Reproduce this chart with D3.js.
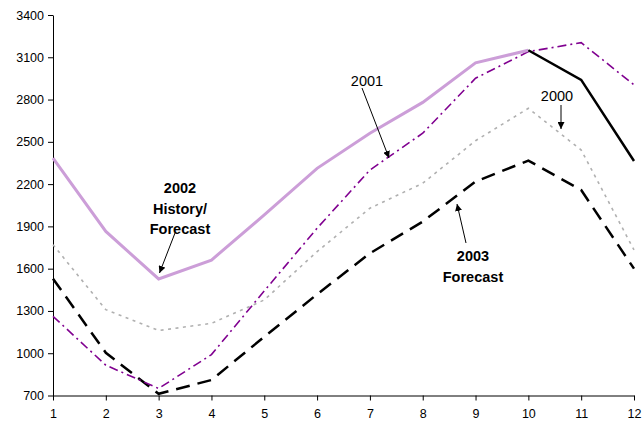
<!DOCTYPE html>
<html>
<head>
<meta charset="utf-8">
<script src="https://cdn.jsdelivr.net/npm/d3@7"></script>
<style>
  html, body { margin: 0; padding: 0; background: #fff; }
  svg { display: block; }
  text { font-family: "Liberation Sans", Arial, sans-serif; }
</style>
</head>
<body>
<svg id="chart" width="644" height="425"></svg>
<script>
// Monthly index (1..12)
const months = [1, 2, 3, 4, 5, 6, 7, 8, 9, 10, 11, 12];
const yTicks = [700, 1000, 1300, 1600, 1900, 2200, 2500, 2800, 3100, 3400];

// 2002 history (months 1-10) and 2002 forecast (months 10-12)
const history2002 = [2385, 1864, 1527, 1661, 1981, 2312, 2561, 2780, 3060, 3150];
const forecast2002Months = [10, 11, 12];
const forecast2002 = [3150, 2940, 2364];
// Prior years and 2003 forecast
const series2001 = [1262, 915, 750, 990, 1442, 1887, 2300, 2561, 2951, 3140, 3204, 2904];
const series2000 = [1770, 1309, 1161, 1212, 1378, 1721, 2029, 2206, 2508, 2738, 2442, 1733];
const series2003 = [1529, 1003, 712, 810, 1117, 1418, 1709, 1934, 2218, 2367, 2158, 1600];

const svg = d3.select("#chart");
const x = d3.scaleLinear().domain([1, 12]).range([53, 634]);
const y = d3.scaleLinear().domain([700, 3400]).range([395.5, 15]);

// Axes
const yAxis = svg.append("g")
  .attr("transform", "translate(53,0)")
  .call(d3.axisLeft(y).tickValues(yTicks).tickSize(5).tickSizeOuter(0).tickPadding(4).tickFormat(d3.format("d")));
const xAxis = svg.append("g")
  .attr("transform", "translate(0,395.5)")
  .call(d3.axisBottom(x).tickValues(months).tickSize(5).tickSizeOuter(0).tickPadding(9).tickFormat(d3.format("d")));
[yAxis, xAxis].forEach(g => {
  g.selectAll("path, line").attr("stroke", "#000").attr("stroke-width", 1);
  g.selectAll("text").attr("fill", "#000").style("font-size", "12.5px");
});

const line = d3.line().x(d => x(d[0])).y(d => y(d[1]));
const pairs = (xs, vs) => xs.map((m, i) => [m, vs[i]]);

function drawLine(data, color, width, dash) {
  svg.append("path")
    .datum(data)
    .attr("d", line)
    .attr("fill", "none")
    .attr("stroke", color)
    .attr("stroke-width", width)
    .attr("stroke-linejoin", "miter")
    .attr("stroke-dasharray", dash || null);
}

drawLine(pairs(months, series2000), "#b0b0b0", 1.6, "3,4.5");
drawLine(pairs(months, series2003), "#000", 2.5, "14,8");
drawLine(pairs(months, series2001), "#800090", 1.6, "9,4,2,4");
drawLine(pairs(months.slice(0, 10), history2002), "#cc9ed8", 3);
drawLine(pairs(forecast2002Months, forecast2002), "#000", 2.5);

// Annotations
svg.append("defs").append("marker")
  .attr("id", "arrow")
  .attr("viewBox", "0 0 10 10")
  .attr("refX", 10).attr("refY", 5)
  .attr("markerWidth", 7).attr("markerHeight", 7)
  .attr("markerUnits", "userSpaceOnUse")
  .attr("orient", "auto")
  .append("path").attr("d", "M0,0 L10,5 L0,10 z").attr("fill", "#000");

function arrow(x1, y1, x2, y2) {
  svg.append("line")
    .attr("x1", x1).attr("y1", y1).attr("x2", x2).attr("y2", y2)
    .attr("stroke", "#000").attr("stroke-width", 1)
    .attr("marker-end", "url(#arrow)");
}

function label(lines, cx, cy, bold) {
  lines.forEach((t, i) => {
    svg.append("text")
      .attr("x", cx).attr("y", cy + i * 20.5)
      .attr("text-anchor", "middle")
      .attr("dominant-baseline", "central")
      .style("font-size", "14.5px")
      .style("font-weight", bold ? "bold" : "normal")
      .attr("fill", "#000")
      .text(t);
  });
}

label(["2002", "History/", "Forecast"], 180, 188, true);
arrow(175, 233, 159.5, 273);

label(["2001"], 367, 81, false);
arrow(362, 88, 389, 158);

label(["2000"], 557, 96, false);
arrow(561, 105, 561, 129);

label(["2003", "Forecast"], 473, 256, true);
arrow(466, 243, 457, 204);
</script>
</body>
</html>
